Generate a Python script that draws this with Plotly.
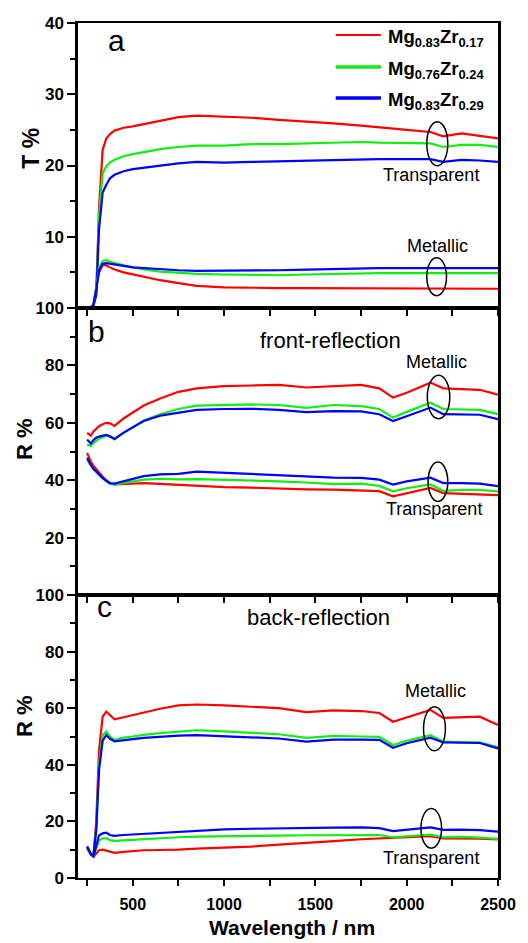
import plotly.graph_objects as go
from plotly.subplots import make_subplots

# ---------------- data ----------------
wavelength = [250, 270, 285, 300, 315, 335, 355, 375, 400, 450, 500, 560, 650, 750, 850,
              1000, 1150, 1300, 1450, 1600, 1750, 1850, 1925, 2000, 2130, 2200, 2300, 2400, 2500]

series_names = ["Mg<sub>0.83</sub>Zr<sub>0.17</sub>",
                "Mg<sub>0.76</sub>Zr<sub>0.24</sub>",
                "Mg<sub>0.83</sub>Zr<sub>0.29</sub>"]
series_colors = ["#FF0000", "#11EE11", "#0000FF"]

# (a) transmission, transparent state
T_trans_r = [0, 0, 0.5, 2.0, 14.0, 22.2, 23.8, 24.4, 24.9, 25.3, 25.5, 25.8, 26.3, 26.8, 27.0,
             26.9, 26.7, 26.4, 26.2, 25.9, 25.6, 25.4, 25.2, 25.0, 24.7, 24.1, 24.5, 24.2, 23.8]
T_trans_g = [0, 0, 0.4, 2.0, 13.0, 18.9, 19.9, 20.4, 20.8, 21.3, 21.6, 21.9, 22.3, 22.6, 22.8,
             22.8, 23.0, 23.0, 23.1, 23.2, 23.3, 23.2, 23.2, 23.1, 23.1, 22.6, 22.9, 22.9, 22.6]
T_trans_b = [0, 0, 0.4, 1.8, 11.0, 16.2, 17.3, 18.2, 18.7, 19.2, 19.5, 19.7, 20.0, 20.3, 20.5,
             20.4, 20.5, 20.6, 20.6, 20.8, 20.9, 20.9, 20.9, 20.9, 20.9, 20.5, 20.8, 20.7, 20.5]
# (a) transmission, metallic state
T_met_r = [0, 0, 0.5, 2.5, 5.0, 6.0, 6.0, 5.7, 5.4, 5.0, 4.7, 4.4, 3.9, 3.5, 3.1,
           2.9, 2.8, 2.8, 2.8, 2.8, 2.8, 2.8, 2.8, 2.8, 2.8, 2.8, 2.7, 2.7, 2.7]
T_met_g = [0, 0, 0.5, 2.8, 5.6, 6.6, 6.7, 6.5, 6.3, 6.0, 5.7, 5.4, 5.1, 4.9, 4.8,
           4.7, 4.6, 4.6, 4.7, 4.8, 4.9, 4.9, 4.9, 4.9, 4.9, 4.9, 4.9, 4.9, 4.9]
T_met_b = [0, 0, 0.5, 2.6, 5.3, 6.2, 6.3, 6.2, 6.1, 5.9, 5.7, 5.6, 5.4, 5.3, 5.2,
           5.2, 5.2, 5.3, 5.4, 5.5, 5.6, 5.6, 5.6, 5.6, 5.6, 5.6, 5.6, 5.6, 5.6]

# (b) front reflection, metallic state
Rf_met_r = [56.5, 55.5, 57.0, 58.0, 58.8, 59.5, 60.0, 59.8, 58.9, 61.5, 63.5, 66.0, 68.5, 70.8, 72.0,
            72.8, 73.0, 73.2, 72.3, 72.8, 73.2, 72.0, 68.8, 70.5, 74.0, 72.0, 71.8, 71.5, 69.8]
Rf_met_g = [52.4, 51.9, 53.0, 53.8, 54.5, 55.0, 55.4, 55.2, 54.2, 56.5, 58.5, 60.8, 63.0, 64.8, 66.0,
            66.3, 66.4, 66.2, 65.2, 66.2, 65.8, 64.8, 61.8, 63.8, 67.0, 64.8, 64.6, 64.5, 63.0]
Rf_met_b = [54.2, 52.8, 54.0, 54.8, 55.2, 55.6, 55.8, 55.3, 54.4, 56.6, 58.5, 60.6, 62.5, 63.6, 64.5,
            64.8, 64.9, 64.5, 63.7, 64.1, 64.0, 63.0, 60.6, 62.3, 65.3, 63.0, 62.9, 62.8, 61.3]
# (b) front reflection, transparent state
Rf_trans_r = [49.5, 46.5, 45.0, 43.8, 42.5, 41.2, 40.0, 39.0, 38.5, 38.6, 38.8, 39.0, 38.7, 38.4, 37.9,
              37.6, 37.4, 37.0, 36.8, 36.7, 36.5, 36.2, 34.4, 35.5, 37.3, 35.5, 35.2, 35.0, 34.8]
Rf_trans_g = [47.2, 45.0, 43.8, 42.8, 41.8, 40.6, 39.6, 38.8, 38.5, 39.0, 39.6, 40.2, 40.5, 40.3, 40.4,
              40.2, 40.0, 39.6, 39.2, 38.6, 38.8, 38.0, 36.1, 37.2, 38.5, 36.3, 36.6, 36.6, 36.1]
Rf_trans_b = [47.8, 45.3, 44.0, 43.0, 42.0, 40.8, 39.8, 39.0, 38.8, 39.6, 40.5, 41.4, 42.0, 42.2, 43.0,
              42.6, 42.2, 41.7, 41.2, 40.9, 40.8, 40.2, 38.5, 39.6, 40.9, 39.0, 39.0, 38.8, 37.9]

# (c) back reflection, metallic state
Rb_met_r = [10.5, 8.5, 8.0, 20.0, 45.0, 57.0, 58.8, 57.5, 56.1, 56.8, 57.6, 58.6, 59.8, 61.0, 61.3,
            61.0, 60.5, 60.0, 58.6, 59.2, 59.0, 58.3, 55.2, 56.8, 59.4, 56.6, 56.8, 57.0, 54.1]
Rb_met_g = [10.5, 8.5, 8.0, 18.0, 40.0, 50.5, 51.7, 50.0, 48.8, 49.6, 50.0, 50.6, 51.2, 51.8, 52.2,
            51.8, 51.2, 50.8, 49.5, 50.2, 50.0, 49.9, 47.0, 48.5, 50.5, 48.2, 48.0, 47.9, 46.2]
Rb_met_b = [11.1, 8.5, 7.8, 17.0, 38.0, 48.5, 50.5, 49.2, 48.3, 48.8, 49.1, 49.5, 50.0, 50.3, 50.5,
            50.1, 49.7, 49.3, 48.2, 48.9, 48.9, 48.8, 46.0, 47.6, 49.6, 47.9, 47.8, 47.7, 45.8]
# (c) back reflection, transparent state
Rb_trans_r = [10.5, 8.2, 7.5, 8.8, 9.8, 10.0, 9.6, 9.2, 8.9, 9.2, 9.5, 9.8, 9.9, 10.0, 10.4,
              10.8, 11.1, 11.8, 12.3, 13.0, 13.7, 14.0, 14.0, 14.4, 14.8, 14.0, 14.0, 13.9, 13.6]
Rb_trans_g = [10.8, 8.3, 7.6, 10.5, 13.2, 14.0, 14.0, 13.4, 13.1, 13.3, 13.5, 13.7, 14.0, 14.4, 14.6,
              14.8, 14.9, 15.0, 15.1, 15.2, 15.3, 15.2, 14.4, 14.8, 15.3, 14.4, 14.5, 14.3, 13.8]
Rb_trans_b = [11.1, 8.5, 7.7, 11.5, 15.0, 15.8, 16.0, 15.2, 14.9, 15.2, 15.4, 15.6, 15.9, 16.3, 16.8,
              17.2, 17.4, 17.6, 17.7, 17.8, 17.9, 17.6, 16.6, 17.0, 17.9, 17.0, 17.1, 16.9, 16.4]

# y tick labels per panel
yticks_a = [10, 20, 30, 40]
yticks_b = [20, 40, 60, 80, 100]
yticks_c = [0, 20, 40, 60, 80, 100]

# ---------------- figure ----------------
W, H = 528, 943
X_LEFT, X_RIGHT, Y_TOP, Y_BOT = 78, 505, 23, 878   # plot area in pixels
PW, PH = X_RIGHT - X_LEFT, Y_BOT - Y_TOP
ML, MT, MR, MB = X_LEFT, Y_TOP, W - X_RIGHT, H - Y_BOT

def px(xp):
    return (xp - X_LEFT) / PW

def py(yp):
    return (Y_BOT - yp) / PH

fig = make_subplots(rows=3, cols=1, shared_xaxes=True, vertical_spacing=0)

panels = [
    (1, [T_trans_r, T_trans_g, T_trans_b], [T_met_r, T_met_g, T_met_b]),
    (2, [Rf_met_r, Rf_met_g, Rf_met_b], [Rf_trans_r, Rf_trans_g, Rf_trans_b]),
    (3, [Rb_met_r, Rb_met_g, Rb_met_b], [Rb_trans_r, Rb_trans_g, Rb_trans_b]),
]
for row, grp1, grp2 in panels:
    for grp in (grp1, grp2):
        for i in range(3):
            fig.add_trace(go.Scatter(x=wavelength, y=grp[i], mode="lines",
                                     name=series_names[i], legendgroup=str(i),
                                     showlegend=False, hoverinfo="skip",
                                     line=dict(color=series_colors[i], width=2.2)),
                          row=row, col=1)

tickfont = dict(family="Liberation Sans, Arial", size=17, color="black", weight="bold")
xtickfont = dict(family="Liberation Sans, Arial", size=16, color="black", weight="bold")

for r in (1, 2, 3):
    fig.update_xaxes(range=[200, 2500], showline=True, linecolor="black", linewidth=2,
                     mirror=True, ticks="outside", ticklen=6, tickwidth=2, tickcolor="black",
                     tick0=0, dtick=500, showgrid=False, zeroline=False,
                     minor=dict(ticks="outside", dtick=250, tick0=0, ticklen=6, tickwidth=2,
                                tickcolor="black", showgrid=False),
                     tickfont=xtickfont, ticklabelstandoff=5,
                     showticklabels=(r == 3), row=r, col=1)

y_ranges = {1: [0, 40], 2: [0, 100], 3: [0, 100]}
y_minor = {1: 5, 2: 10, 3: 10}
y_ticks = {1: yticks_a, 2: yticks_b, 3: yticks_c}
domains = {1: [py(308), 1.0], 2: [py(595), py(308)], 3: [0.0, py(595)]}
for r in (1, 2, 3):
    fig.update_yaxes(range=y_ranges[r], domain=domains[r], showline=True, linecolor="black",
                     linewidth=2.5, mirror=True, ticks="outside", ticklen=8, tickwidth=2,
                     tickcolor="black", tickmode="array", tickvals=y_ticks[r],
                     ticktext=[str(v) for v in y_ticks[r]], showgrid=False, zeroline=False,
                     minor=dict(ticks="outside", dtick=y_minor[r], tick0=0, ticklen=5,
                                tickwidth=2, tickcolor="black", showgrid=False),
                     tickfont=tickfont, row=r, col=1)

annotations = []
plain = "Liberation Sans, Arial"

def ann(text, x, y, size, bold=False, xanchor="center", yanchor="middle", angle=0):
    annotations.append(dict(text=text, x=px(x), y=py(y), xref="paper", yref="paper",
                            showarrow=False, xanchor=xanchor, yanchor=yanchor, textangle=angle,
                            font=dict(family=plain, size=size, color="black",
                                      weight="bold" if bold else "normal")))

# panel letters and subtitles
ann("a", 117, 41, 30)
ann("b", 97, 331, 30)
ann("c", 105, 606, 30)
ann("front-reflection", 335, 340, 22)
ann("back-reflection", 322, 617, 22)
# state labels
ann("Transparent", 437, 175, 18)
ann("Metallic", 443, 246, 18)
ann("Metallic", 442, 362, 18)
ann("Transparent", 440, 509, 18)
ann("Metallic", 441, 691, 18)
ann("Transparent", 437, 858, 18)
# axis titles
ann("T %", 30, 148, 23, bold=True, angle=-90)
ann("R %", 23, 439, 22, bold=True, angle=-90)
ann("R %", 23, 716, 22, bold=True, angle=-90)
ann("Wavelength / nm", 296, 928, 21, bold=True)

# manual legend
shapes = []
leg_y = [35, 67, 98]
leg_w = [2, 3.5, 3.5]
for i in range(3):
    shapes.append(dict(type="line", xref="paper", yref="paper", x0=px(340), x1=px(386),
                       y0=py(leg_y[i]), y1=py(leg_y[i]),
                       line=dict(color=series_colors[i], width=leg_w[i])))
    ann(series_names[i], 391, leg_y[i] + 3, 18.5, bold=True, xanchor="left")

# ellipses marking the two states (data coordinates)
ellipses = [
    ("x", "y", 2110, 2225, 19.97, 26.15),
    ("x", "y", 2110, 2218, 1.73, 7.06),
    ("x2", "y2", 2113, 2236, 61.4, 76.6),
    ("x2", "y2", 2117, 2225, 32.6, 46.3),
    ("x3", "y3", 2092, 2212, 45.0, 60.5),
    ("x3", "y3", 2078, 2191, 10.5, 24.6),
]
for xr, yr, x0, x1, y0, y1 in ellipses:
    shapes.append(dict(type="circle", xref=xr, yref=yr, x0=x0, x1=x1, y0=y0, y1=y1,
                       line=dict(color="black", width=1.5)))

fig.update_layout(width=W, height=H, margin=dict(l=ML, r=MR, t=MT, b=MB),
                  paper_bgcolor="white", plot_bgcolor="white", showlegend=False,
                  hovermode=False, annotations=annotations, shapes=shapes)

# remove the default 8px page margin so the figure fills the window exactly
fig.write_html("out.html", config={"displayModeBar": False},
               post_script="document.body.style.margin='0px';document.body.style.overflow='hidden';")
